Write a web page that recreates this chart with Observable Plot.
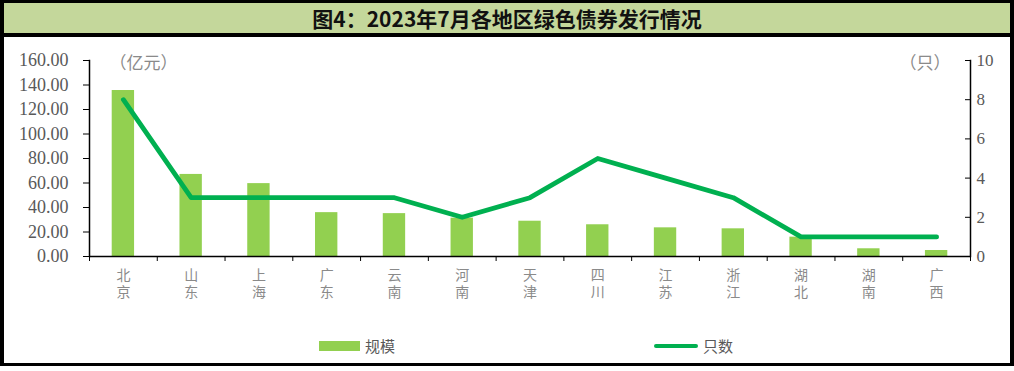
<!DOCTYPE html>
<html>
<head>
<meta charset="utf-8">
<script src="https://cdn.jsdelivr.net/npm/d3@7"></script>
<script src="https://cdn.jsdelivr.net/npm/@observablehq/plot@0.6"></script>
<style>
  html, body { margin: 0; padding: 0; background: #fff; }
  #wrap { position: relative; box-sizing: border-box; width: 1014px; height: 366px; border-style: solid; border-color: #000; border-width: 3px 4px 3px 4px; font-family: "Noto Sans CJK SC", sans-serif; }
  #title { box-sizing: border-box; height: 34px; background: #c4d79b; border-bottom: 4px solid #000; text-align: center; font-size: 21px; font-weight: 700; line-height: 30px; color: #111; }
  #chart { position: absolute; left: 0; top: 34px; }
  .leg { position: absolute; font-size: 15px; color: #595959; }
</style>
</head>
<body>
<div id="wrap">
  <div id="title">图4：2023年7月各地区绿色债券发行情况</div>
  <div id="chart"></div>
  <div class="leg" style="left:315px;top:338px;width:41px;height:10px;background:#92d050"></div>
  <div class="leg" style="left:361px;top:332px;">规模</div>
  <div class="leg" style="left:650px;top:341px;width:44px;height:4px;border-radius:2px;background:#00b050"></div>
  <div class="leg" style="left:699px;top:332px;">只数</div>
</div>
<script>
const regions = ["北京","山东","上海","广东","云南","河南","天津","四川","江苏","浙江","湖北","湖南","广西"];
const amounts = [135.5, 67.0, 59.5, 35.8, 35.0, 31.3, 28.8, 25.9, 23.4, 22.6, 15.8, 6.3, 4.9];
const counts = [8, 3, 3, 3, 3, 2, 3, 5, 4, 3, 1, 1, 1];
const leftTicks = [0, 20, 40, 60, 80, 100, 120, 140, 160];
const rightTicks = [0, 2, 4, 6, 8, 10];
const leftUnit = "（亿元）";
const rightUnit = "（只）";

const ratio = 160 / 10;
const data = regions.map((r, i) => ({region: r, amount: amounts[i], count: counts[i]}));

const W = 1006, H = 326, mL = 85, mR = 40, mT = 23, mB = 107;
const step = (W - mL - mR) / regions.length;
const grey = "#595959";
const serif = "'Liberation Serif', 'Times New Roman', serif";

const chart = Plot.plot({
  width: W, height: H,
  marginLeft: mL, marginRight: mR, marginTop: mT, marginBottom: mB,
  style: {fontFamily: "'Noto Sans CJK SC', sans-serif", background: "transparent", overflow: "visible"},
  x: {type: "band", domain: regions, paddingInner: 0.67, paddingOuter: 0.335, align: 0.5, round: false},
  y: {domain: [0, 160]},
  marks: [
    Plot.barY(data, {x: "region", y: "amount", fill: "#92d050"}),
    Plot.ruleY([0], {stroke: "#000", strokeWidth: 1.5}),
    Plot.frame({anchor: "left", stroke: "#000", strokeWidth: 1.5}),
    Plot.frame({anchor: "right", stroke: "#000", strokeWidth: 1.5}),
    Plot.line(data, {x: "region", y: d => d.count * ratio, stroke: "#00b050", strokeWidth: 4.8, strokeLinecap: "round", strokeLinejoin: "round"}),
    Plot.axisY({anchor: "left", ticks: leftTicks, tickFormat: d => d.toFixed(2), tickSize: 6, tickPadding: 15, label: null, fontSize: 18, fontFamily: serif, fill: grey, stroke: "#000"}),
    Plot.axisY({anchor: "right", ticks: rightTicks.map(d => d * ratio), tickFormat: d => String(d / ratio), tickSize: -6, tickPadding: 12, label: null, fontSize: 17, fontFamily: serif, fill: grey, stroke: "#000"}),
    Plot.axisX({tickSize: 5, tickFormat: null, dx: -step / 2, label: null, stroke: "#000"}),
    Plot.axisX({ticks: [regions[regions.length - 1]], tickSize: 5, tickFormat: null, dx: step / 2, label: null, stroke: "#000"}),
    Plot.axisX({tickSize: 0, tickPadding: 12, tickFormat: d => [...d].join("\n"), lineHeight: 1.2, fontSize: 14, fill: "#8a8a8a", label: null}),
    Plot.text([leftUnit], {frameAnchor: "top-left", text: d => d, dx: 20, dy: -4, fontSize: 17, letterSpacing: 1, fill: "#8a8a8a", textAnchor: "start"}),
    Plot.text([rightUnit], {frameAnchor: "top-right", text: d => d, dx: -20, dy: -4, fontSize: 17, letterSpacing: 1, fill: "#8a8a8a", textAnchor: "end"})
  ]
});
document.getElementById("chart").appendChild(chart);
</script>
</body>
</html>
